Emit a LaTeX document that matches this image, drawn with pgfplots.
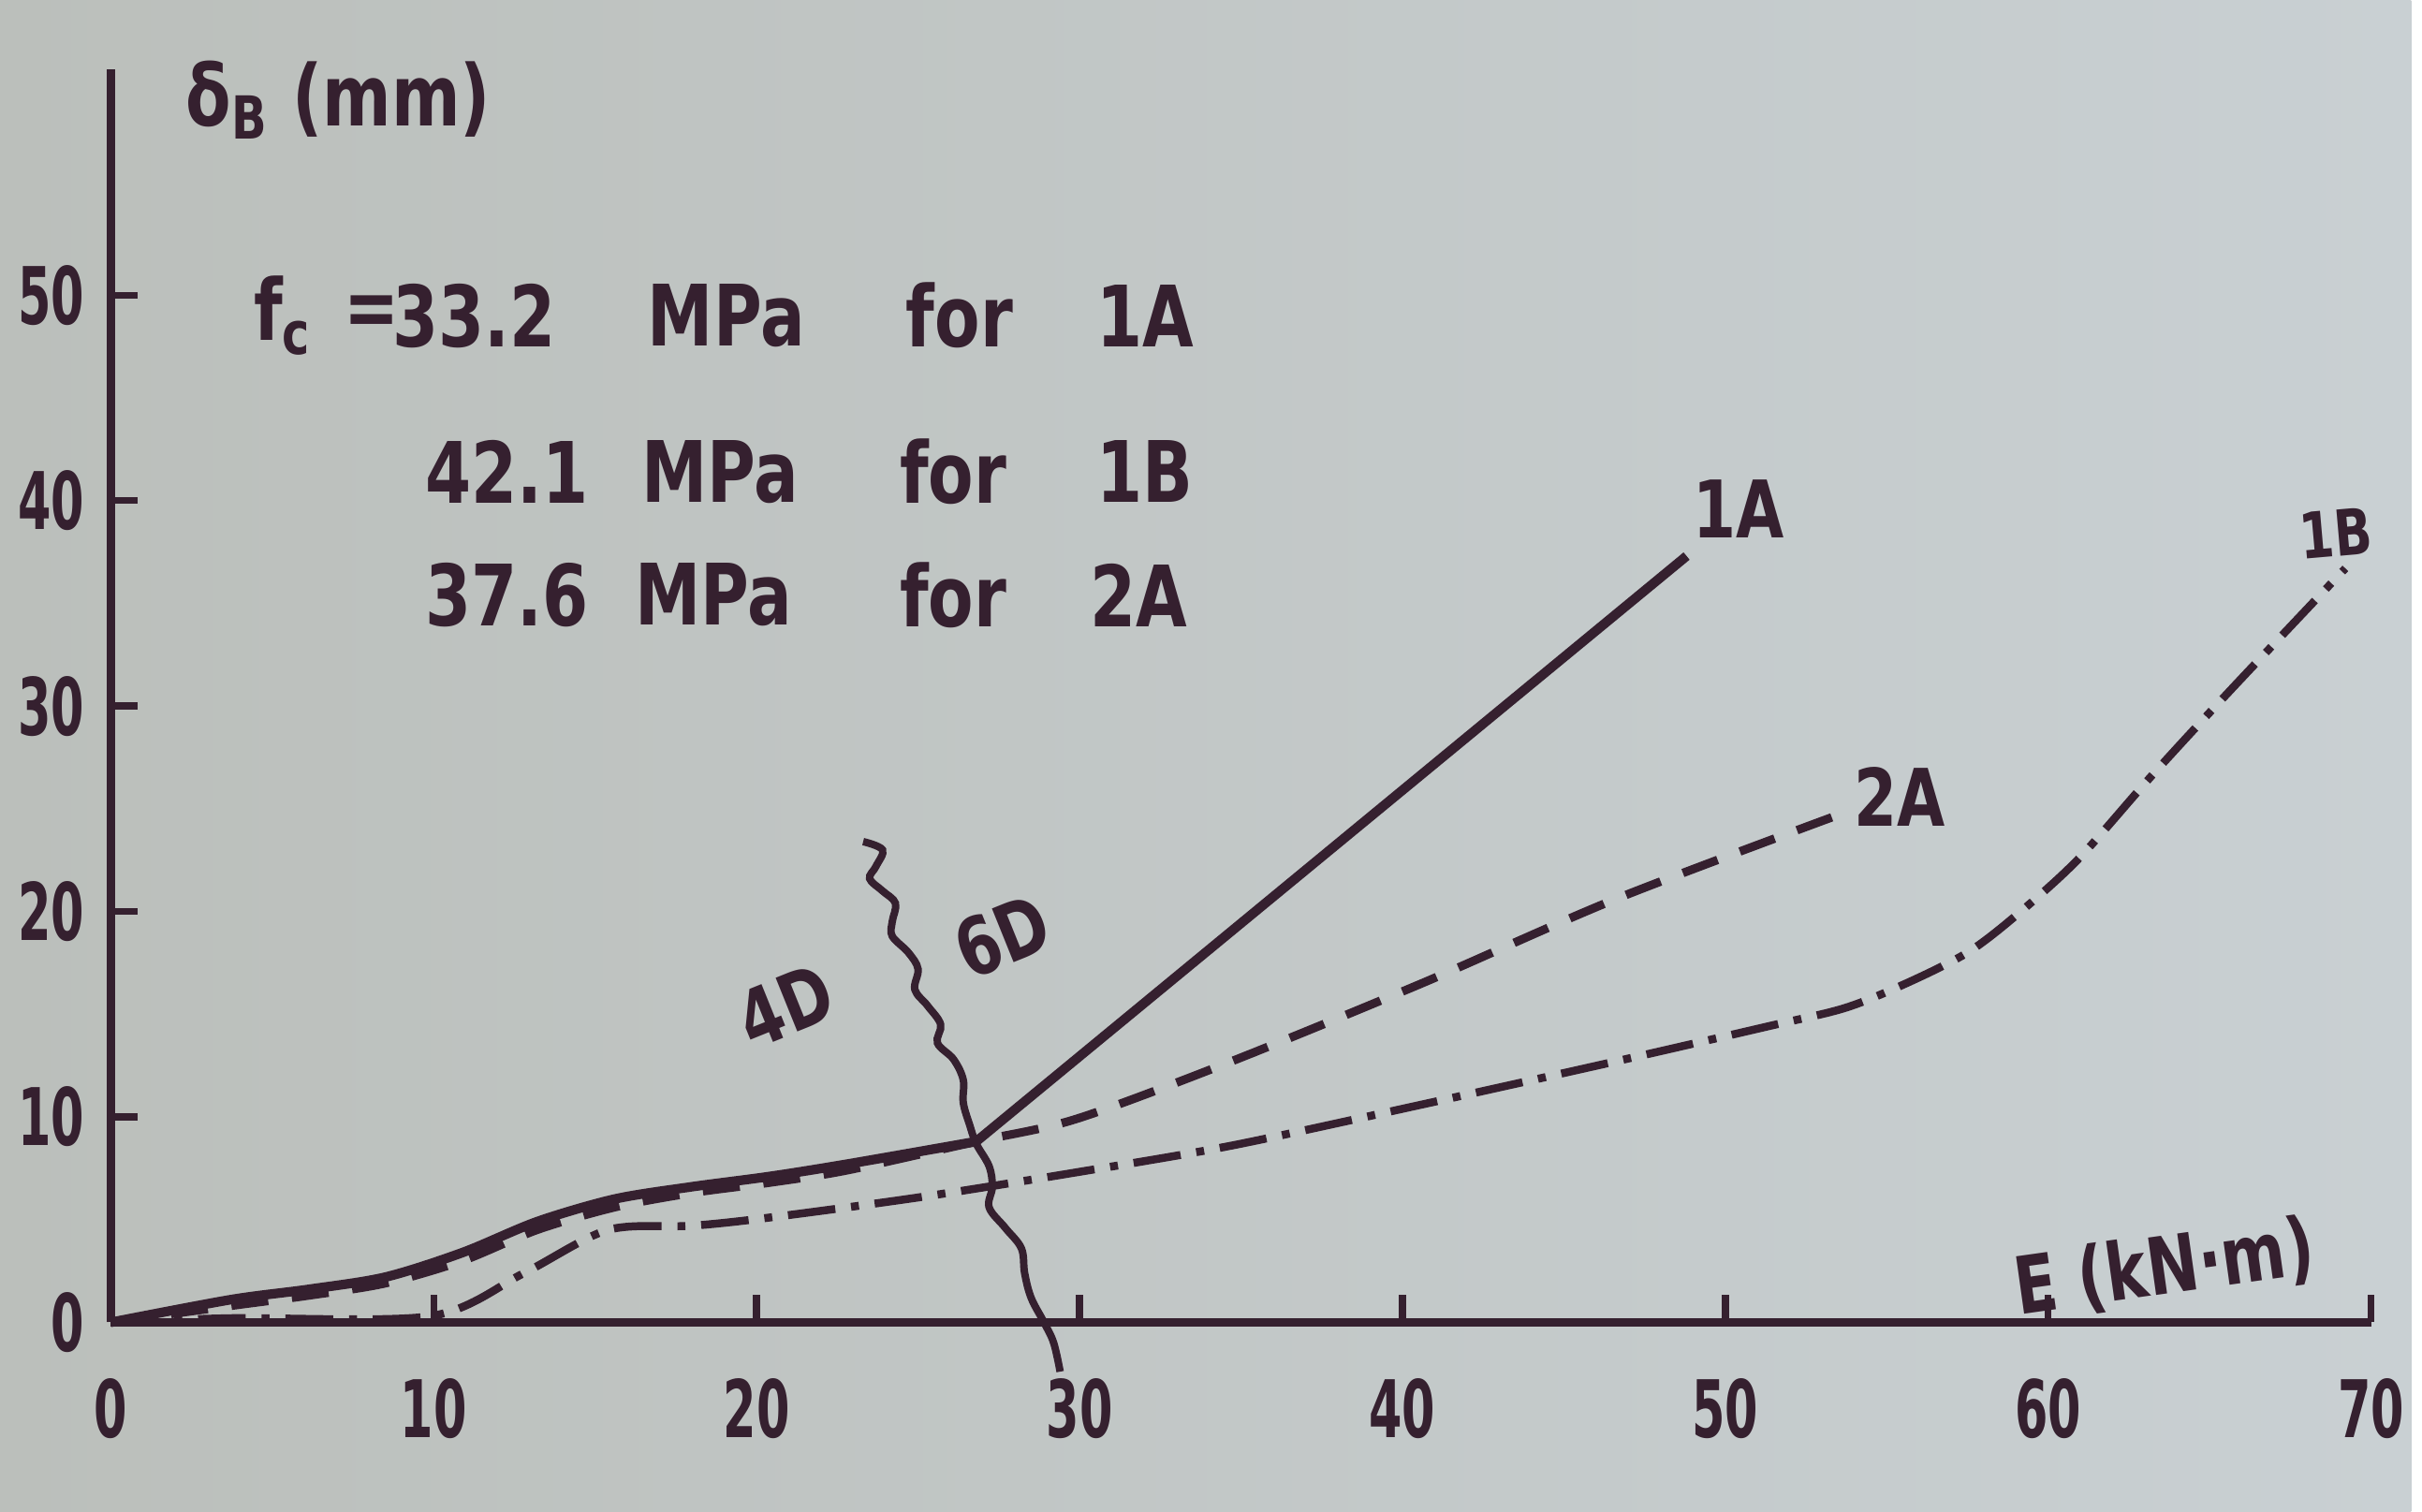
\documentclass[border=0pt]{standalone}
\usepackage{pgfplots}
\pgfplotsset{compat=1.18}
\usepackage{fontspec}
\setmainfont{DejaVu Sans}[FakeStretch=0.78]
\newfontfamily\tickfont{DejaVu Sans}[FakeStretch=0.6]
\definecolor{ink}{HTML}{35202F}
\definecolor{bgl}{HTML}{BBBFBB}
\definecolor{bgr}{HTML}{C9D0D3}
\begin{document}
\begin{tikzpicture}
\shade[left color=bgl, right color=bgr] (-0.735cm,-1.255cm) rectangle (15.265cm,8.775cm);
\begin{axis}[
  at={(0,0)}, anchor=south west,
  scale only axis, width=15.0cm, height=8.316cm,
  xmin=0, xmax=70, ymin=0, ymax=61,
  axis x line=bottom, axis y line=left,
  axis line style={ink, line width=1.6pt, -},
  xtick={0,10,...,70}, ytick={0,10,...,50},
  tick align=inside, major tick length=0.18cm,
  tick style={ink, line width=1.3pt},
  ticklabel style={font=\tickfont\bfseries\fontsize{15}{15}\selectfont, text=ink},
  xticklabel style={yshift=-0.25cm},
  yticklabel style={xshift=-0.05cm},
  /pgf/number format/assume math mode=true,
  clip=false,
]
% 1A (solid): curved part, then straight part from the junction
\addplot[ink, line width=1.8pt, smooth, tension=0.5] coordinates {
 (0,0) (3.7,1.1) (6.1,1.6) (8.5,2.2) (10.9,3.4) (13.2,4.9) (15.6,6.0)
 (18.0,6.6) (20.4,7.1) (22.8,7.7) (26.8,8.8)};
\addplot[ink, line width=1.8pt] coordinates {(26.8,8.8) (48.8,37.3)};
% 2A (dashed)
\addplot[ink, line width=1.6pt, dash pattern=on 7pt off 4.5pt, smooth, tension=0.5] coordinates {
 (0,0) (3.7,0.8) (6.1,1.3) (8.5,1.9) (10.9,3.0) (13.2,4.5) (15.6,5.6)
 (18.0,6.3) (20.4,6.8) (22.8,7.4) (26.8,8.8) (29.9,9.9) (34.7,12.7)
 (40.6,16.5) (46.6,20.6) (53.5,24.7)};
% 1B (dash-dot)
\addplot[ink, line width=1.5pt, dash pattern=on 9pt off 3pt on 1.5pt off 3pt, smooth, tension=0.5] coordinates {
 (0,0) (3.7,0.2) (9.9,0.3) (12.8,2.4) (15.4,4.5) (18.0,4.7) (20.4,5.1) (25.1,6.1)
 (29.9,7.3) (34.7,8.6) (40.6,10.6) (46.6,12.7) (51.3,14.4) (53.7,15.3) (55.6,16.5)
 (57.5,18.0) (59.0,19.8) (60.9,22.5) (63.2,26.6) (65.6,30.7) (69.2,36.7)};
% wavy line 4D / 6D
\addplot[ink, line width=1.4pt, smooth, tension=0.6] coordinates {
 (23.3,23.4) (23.9,23.0) (23.7,22.2) (23.5,21.6) (23.9,21.0) (24.3,20.4) (24.2,19.5)
 (24.2,18.8) (24.7,18.0) (25.0,17.2) (24.9,16.2) (25.3,15.4) (25.7,14.5) (25.6,13.6)
 (26.1,12.8) (26.4,11.8) (26.4,10.7) (26.6,9.6) (26.8,8.7) (27.2,7.6) (27.3,6.6)
 (27.2,5.6) (27.7,4.6) (28.2,3.6) (28.3,2.4) (28.5,1.2) (28.9,0.0) (29.2,-1.0) (29.4,-2.4)};
% annotations
\tikzset{ann/.style={anchor=west, text=ink, font=\bfseries\fontsize{16}{19}\selectfont, inner sep=0pt}}
\node[ann] at (axis cs:4.4,49) {f\textsubscript{c}};
\node[ann] at (axis cs:7.2,49) {=};
\node[ann] at (axis cs:8.7,49) {33.2};
\node[ann] at (axis cs:16.6,49) {MPa};
\node[ann] at (axis cs:24.6,49) {for};
\node[ann] at (axis cs:30.5,49) {1A};
\node[ann] at (axis cs:9.7,41.4) {42.1};
\node[ann] at (axis cs:16.4,41.4) {MPa};
\node[ann] at (axis cs:24.4,41.4) {for};
\node[ann] at (axis cs:30.5,41.4) {1B};
\node[ann] at (axis cs:9.7,35.4) {37.6};
\node[ann] at (axis cs:16.2,35.4) {MPa};
\node[ann] at (axis cs:24.4,35.4) {for};
\node[ann] at (axis cs:30.3,35.4) {2A};
\node[ann] at (axis cs:2.3,59.5) {δ\textsubscript{B} (mm)};
\tikzset{lab/.style={text=ink, font=\bfseries\fontsize{15}{18}\selectfont, inner sep=0pt}}
\node[lab] at (axis cs:50.4,39.6) {1A};
\node[lab] at (axis cs:55.4,25.6) {2A};
\node[lab, font=\bfseries\fontsize{12}{14}\selectfont, rotate=5] at (axis cs:68.9,38.4) {1B};
\node[lab, rotate=22] at (axis cs:20.9,15.4) {4D};
\node[lab, rotate=22] at (axis cs:27.6,18.8) {6D};
\node[lab, rotate=8] at (axis cs:63.6,2.6) {E (kN·m)};
\end{axis}
\end{tikzpicture}
\end{document}
